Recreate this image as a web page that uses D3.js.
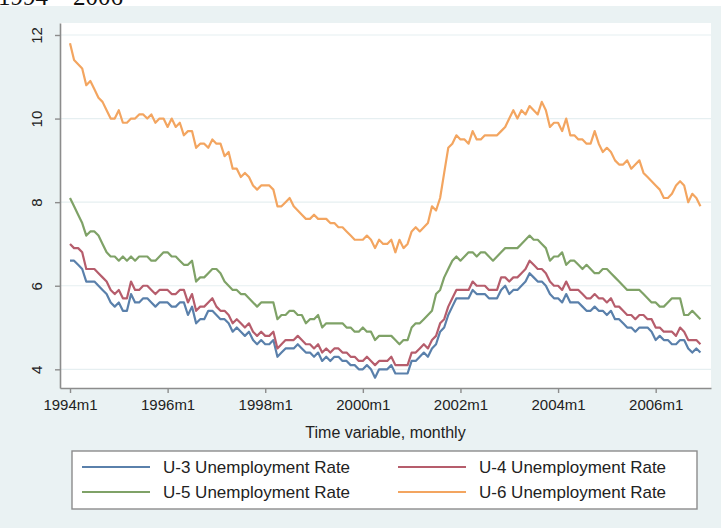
<!DOCTYPE html>
<html><head><meta charset="utf-8">
<script src="https://cdn.jsdelivr.net/npm/d3@7"></script>
<style>body{margin:0;background:#fff} svg{display:block}</style>
</head><body>
<svg id="chart" width="721" height="528"></svg>
<script>
const startYear = 1994;
const seriesNames = ["U-3 Unemployment Rate", "U-4 Unemployment Rate", "U-5 Unemployment Rate", "U-6 Unemployment Rate"];
const seriesColors = ["#5a80ab", "#b65d6c", "#7fa267", "#f3a560"];

const u3 = [
 6.6,6.6,6.5,6.4,6.1,6.1,6.1,6.0,5.9,5.8,5.6,5.5,
 5.6,5.4,5.4,5.8,5.6,5.6,5.7,5.7,5.6,5.5,5.6,5.6,
 5.6,5.5,5.5,5.6,5.6,5.3,5.5,5.1,5.2,5.2,5.4,5.4,
 5.3,5.2,5.2,5.1,4.9,5.0,4.9,4.8,4.9,4.7,4.6,4.7,
 4.6,4.6,4.7,4.3,4.4,4.5,4.5,4.5,4.6,4.5,4.4,4.4,
 4.3,4.4,4.2,4.3,4.2,4.3,4.3,4.2,4.2,4.1,4.1,4.0,
 4.0,4.1,4.0,3.8,4.0,4.0,4.0,4.1,3.9,3.9,3.9,3.9,
 4.2,4.2,4.3,4.4,4.3,4.5,4.6,4.9,5.0,5.3,5.5,5.7,
 5.7,5.7,5.7,5.9,5.8,5.8,5.8,5.7,5.7,5.7,5.9,6.0,
 5.8,5.9,5.9,6.0,6.1,6.3,6.2,6.1,6.1,6.0,5.8,5.7,
 5.7,5.6,5.8,5.6,5.6,5.6,5.5,5.4,5.4,5.5,5.4,5.4,
 5.3,5.4,5.2,5.2,5.1,5.0,5.0,4.9,5.0,5.0,5.0,4.9,
 4.7,4.8,4.7,4.7,4.6,4.6,4.7,4.7,4.5,4.4,4.5,4.4
];
const u4 = [
 7.0,6.9,6.9,6.8,6.4,6.4,6.4,6.3,6.2,6.1,5.9,5.8,
 5.9,5.7,5.7,6.1,5.9,5.9,6.0,6.0,5.9,5.8,5.9,5.9,
 5.9,5.8,5.8,5.9,5.9,5.6,5.8,5.4,5.5,5.5,5.6,5.7,
 5.5,5.4,5.4,5.3,5.1,5.2,5.1,5.0,5.1,4.9,4.8,4.9,
 4.8,4.8,4.9,4.5,4.6,4.7,4.7,4.7,4.8,4.7,4.6,4.6,
 4.5,4.6,4.4,4.5,4.4,4.5,4.5,4.4,4.4,4.3,4.3,4.2,
 4.2,4.3,4.2,4.1,4.2,4.2,4.2,4.3,4.1,4.1,4.1,4.1,
 4.4,4.4,4.5,4.6,4.5,4.7,4.8,5.1,5.2,5.5,5.7,5.9,
 5.9,5.9,5.9,6.1,6.0,6.0,6.0,5.9,5.9,5.9,6.2,6.2,
 6.1,6.2,6.2,6.3,6.4,6.6,6.5,6.4,6.4,6.3,6.1,6.0,
 6.0,5.9,6.1,5.9,5.9,5.9,5.8,5.7,5.7,5.8,5.7,5.7,
 5.6,5.7,5.5,5.5,5.4,5.3,5.3,5.2,5.3,5.3,5.2,5.2,
 5.0,5.0,4.9,4.9,4.9,4.8,5.0,4.9,4.7,4.7,4.7,4.6
];
const u5 = [
 8.1,7.9,7.7,7.5,7.2,7.3,7.3,7.2,7.0,6.8,6.7,6.7,
 6.6,6.7,6.6,6.7,6.6,6.7,6.7,6.7,6.6,6.6,6.7,6.8,
 6.8,6.7,6.7,6.6,6.5,6.5,6.6,6.1,6.2,6.2,6.3,6.4,
 6.4,6.3,6.1,6.0,5.9,5.9,5.8,5.8,5.7,5.6,5.5,5.6,
 5.6,5.6,5.6,5.2,5.3,5.3,5.4,5.4,5.3,5.3,5.1,5.2,
 5.2,5.3,5.0,5.1,5.1,5.1,5.1,5.1,5.0,5.0,4.9,4.9,
 5.0,4.9,4.9,4.7,4.8,4.8,4.8,4.8,4.7,4.6,4.7,4.7,
 5.0,5.1,5.1,5.2,5.3,5.4,5.8,5.9,6.2,6.4,6.6,6.7,
 6.6,6.7,6.8,6.8,6.7,6.8,6.8,6.7,6.6,6.7,6.8,6.9,
 6.9,6.9,6.9,7.0,7.1,7.2,7.1,7.1,7.0,6.9,6.6,6.7,
 6.7,6.8,6.5,6.6,6.6,6.5,6.4,6.5,6.4,6.3,6.3,6.4,
 6.4,6.3,6.2,6.1,6.0,5.9,5.9,5.9,5.9,5.8,5.7,5.6,
 5.6,5.5,5.5,5.6,5.7,5.7,5.7,5.3,5.3,5.4,5.3,5.2
];
const u6 = [
 11.8,11.4,11.3,11.2,10.8,10.9,10.7,10.5,10.4,10.2,10.0,10.0,
 10.2,9.9,9.9,10.0,10.0,10.1,10.1,10.0,10.1,9.9,10.0,10.0,
 9.8,10.0,9.8,9.9,9.6,9.7,9.7,9.3,9.4,9.4,9.3,9.5,
 9.4,9.4,9.1,9.2,8.8,8.8,8.6,8.7,8.6,8.4,8.3,8.4,
 8.4,8.4,8.3,7.9,7.9,8.0,8.1,7.9,7.8,7.7,7.6,7.6,
 7.7,7.6,7.6,7.6,7.5,7.5,7.4,7.4,7.3,7.2,7.1,7.1,
 7.1,7.2,7.1,6.9,7.1,7.0,7.0,7.1,6.8,7.1,6.9,7.0,
 7.3,7.4,7.3,7.4,7.5,7.9,7.8,8.1,8.7,9.3,9.4,9.6,
 9.5,9.5,9.4,9.7,9.5,9.5,9.6,9.6,9.6,9.6,9.7,9.8,
 10.0,10.2,10.0,10.2,10.1,10.3,10.2,10.1,10.4,10.2,9.8,9.9,
 9.9,9.7,10.0,9.6,9.6,9.5,9.5,9.4,9.4,9.7,9.4,9.2,
 9.3,9.2,9.0,8.9,8.9,9.0,8.8,8.9,9.0,8.7,8.6,8.5,
 8.4,8.3,8.1,8.1,8.2,8.4,8.5,8.4,8.0,8.2,8.1,7.9
];
const yTicks = [4, 6, 8, 10, 12];
const xTickLabels = ["1994m1", "1996m1", "1998m1", "2000m1", "2002m1", "2004m1", "2006m1"];
const xAxisTitle = "Time variable, monthly";
const topText = "1994 \u2013 2006";

const seriesData = [u3, u4, u5, u6];

const svg = d3.select("#chart");
const W = 721, H = 528;
const plot = {left: 60, right: 711, top: 23, bottom: 388};

svg.append("rect").attr("x", 0).attr("y", 0).attr("width", W).attr("height", H).attr("fill", "#ffffff");
svg.append("rect").attr("x", 0).attr("y", 6).attr("width", W).attr("height", H - 6).attr("fill", "#eaf2f3");

svg.append("text").attr("x", -2).attr("y", 5)
  .attr("font-family", "'Liberation Serif', 'DejaVu Serif', serif")
  .attr("font-size", 25).attr("fill", "#111").text(topText);

svg.append("rect").attr("x", plot.left).attr("y", plot.top)
  .attr("width", plot.right - plot.left).attr("height", plot.bottom - plot.top).attr("fill", "#ffffff");

const x = d3.scaleLinear().domain([-2.46, 157.6]).range([plot.left, plot.right]);
const y = d3.scaleLinear().domain([3.553, 12.287]).range([plot.bottom, plot.top]);

// gridlines
svg.append("g").selectAll("line").data(yTicks).join("line")
  .attr("x1", plot.left).attr("x2", plot.right)
  .attr("y1", d => y(d)).attr("y2", d => y(d))
  .attr("stroke", "#e6eff1").attr("stroke-width", 1.2);

// lines
const line = d3.line().x((d, i) => x(i)).y(d => y(d)).curve(d3.curveLinear);
seriesData.forEach((s, k) => {
  svg.append("path").datum(s)
    .attr("d", line)
    .attr("fill", "none")
    .attr("stroke", seriesColors[k])
    .attr("stroke-width", 2.2)
    .attr("stroke-linejoin", "round");
});

const fontFam = "'Liberation Sans', Arial, Helvetica, sans-serif";
const axisColor = "#8c8c8c";

// y axis
const yAxis = svg.append("g").attr("transform", `translate(${plot.left},0)`)
  .call(d3.axisLeft(y).tickValues(yTicks).tickSize(5).tickSizeOuter(0).tickPadding(6));
yAxis.select(".domain").attr("stroke", axisColor).attr("stroke-width", 1.6);
yAxis.selectAll(".tick line").attr("stroke", axisColor).attr("stroke-width", 1.4);
yAxis.selectAll(".tick text")
  .attr("font-family", fontFam).attr("font-size", 15).attr("fill", "#222")
  .attr("x", 0).attr("dy", 0)
  .attr("text-anchor", "middle")
  .attr("transform", "translate(-18,0) rotate(-90)");

// x axis
const xTickMonths = xTickLabels.map(l => (parseInt(l.slice(0, 4)) - startYear) * 12);
const xAxis = svg.append("g").attr("transform", `translate(0,${plot.bottom})`)
  .call(d3.axisBottom(x).tickValues(xTickMonths).tickFormat((d, i) => xTickLabels[i]).tickSize(5).tickSizeOuter(0).tickPadding(6));
xAxis.select(".domain").attr("stroke", axisColor).attr("stroke-width", 1.6);
xAxis.selectAll(".tick line").attr("stroke", axisColor).attr("stroke-width", 1.4);
xAxis.selectAll(".tick text")
  .attr("font-family", fontFam).attr("font-size", 15).attr("fill", "#222");

svg.append("text").attr("x", (plot.left + plot.right) / 2).attr("y", 438)
  .attr("text-anchor", "middle").attr("font-family", fontFam).attr("font-size", 16)
  .attr("fill", "#222").text(xAxisTitle);

// legend
const lg = svg.append("g");
lg.append("rect").attr("x", 72).attr("y", 451).attr("width", 625).attr("height", 58)
  .attr("fill", "#ffffff").attr("stroke", "#8c8c8c").attr("stroke-width", 1.4);
const colX = [82, 398];
const rowY = [467, 492];
seriesNames.forEach((name, k) => {
  const cx = colX[k % 2], cy = rowY[Math.floor(k / 2)];
  lg.append("line").attr("x1", cx).attr("x2", cx + 68).attr("y1", cy).attr("y2", cy)
    .attr("stroke", seriesColors[k]).attr("stroke-width", 2);
  lg.append("text").attr("x", cx + 81).attr("y", cy + 6)
    .attr("font-family", fontFam).attr("font-size", 17).attr("fill", "#222").text(name);
});
</script>
</body></html>
